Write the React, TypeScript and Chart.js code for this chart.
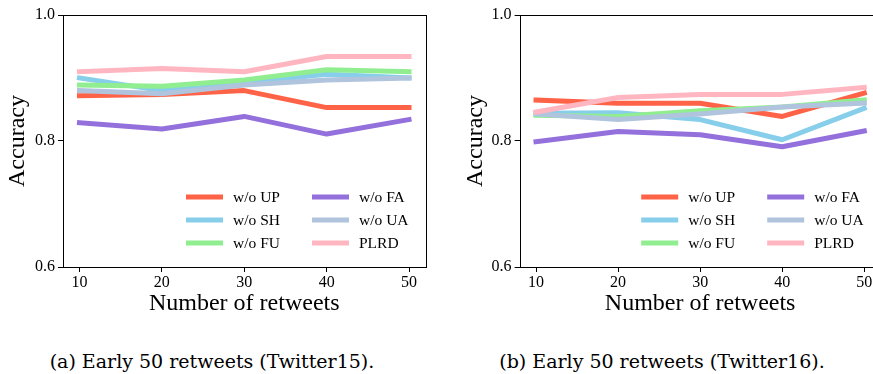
import React, { useEffect, useRef } from 'react';
import { Chart, registerables } from 'chart.js';
Chart.register(...registerables);

// ---------- data ----------
const retweetCounts = [10, 20, 30, 40, 50];
const xTickValues = [10, 20, 30, 40, 50];
const yTickValues = [0.6, 0.8, 1.0];
const seriesNames = ['w/o UP', 'w/o SH', 'w/o FU', 'w/o FA', 'w/o UA', 'PLRD'];
const seriesColors = ['#FF6347', '#87CEEB', '#90EE90', '#9370DB', '#B0C4DE', '#FFB6C1'];

// Twitter15
const t15UP = [0.872, 0.874, 0.880, 0.853, 0.853];
const t15SH = [0.900, 0.880, 0.893, 0.906, 0.900];
const t15FU = [0.889, 0.887, 0.897, 0.913, 0.910];
const t15FA = [0.829, 0.819, 0.839, 0.811, 0.834];
const t15UA = [0.880, 0.875, 0.889, 0.897, 0.900];
const t15PLRD = [0.910, 0.915, 0.910, 0.934, 0.934];

// Twitter16
const t16UP = [0.865, 0.860, 0.860, 0.839, 0.876];
const t16SH = [0.844, 0.845, 0.834, 0.802, 0.852];
const t16FU = [0.841, 0.839, 0.848, 0.854, 0.865];
const t16FA = [0.799, 0.815, 0.810, 0.791, 0.816];
const t16UA = [0.843, 0.834, 0.843, 0.854, 0.860];
const t16PLRD = [0.846, 0.869, 0.874, 0.874, 0.885];

const xLabel = 'Number of retweets';
const yLabel = 'Accuracy';
const captionA = '(a) Early 50 retweets (Twitter15).';
const captionB = '(b) Early 50 retweets (Twitter16).';

const SERIF = '"Liberation Serif", "Times New Roman", serif';

const boxLegendPlugin = {
  id: 'boxLegend',
  afterDatasetsDraw(chart: any) {
    const { ctx, chartArea } = chart;
    ctx.save();
    // axes frame
    ctx.strokeStyle = '#000';
    ctx.lineWidth = 1;
    const l = Math.round(chartArea.left) + 0.5;
    const t = Math.round(chartArea.top) + 0.5;
    const r = Math.round(chartArea.right) + 0.5;
    const b = Math.round(chartArea.bottom) + 0.5;
    ctx.strokeRect(l, t, r - l, b - t);
    // legend (2 columns, column-major)
    const cols = [chartArea.right - 239.5, chartArea.right - 113.5];
    const rows = [chartArea.bottom - 70, chartArea.bottom - 47, chartArea.bottom - 24];
    chart.data.datasets.forEach((ds: any, i: number) => {
      const x = cols[Math.floor(i / 3)];
      const y = rows[i % 3];
      ctx.strokeStyle = ds.borderColor;
      ctx.lineWidth = 5;
      ctx.lineCap = 'butt';
      ctx.beginPath();
      ctx.moveTo(x, y);
      ctx.lineTo(x + 37, y);
      ctx.stroke();
      ctx.fillStyle = '#000';
      ctx.font = '15.5px ' + SERIF;
      ctx.textBaseline = 'middle';
      ctx.textAlign = 'left';
      ctx.fillText(ds.label, x + 47, y + 0.5);
    });
    ctx.restore();
  },
};

function makeConfig(series: number[][], padLeft: number, padRight: number, yWidth: number): any {
  return {
    type: 'line',
    data: {
      labels: retweetCounts,
      datasets: series.map((vals, i) => ({
        label: seriesNames[i],
        data: retweetCounts.map((x, j) => ({ x, y: vals[j] })),
        borderColor: seriesColors[i],
        backgroundColor: seriesColors[i],
        borderWidth: 5,
        pointRadius: 0,
        tension: 0,
        borderCapStyle: 'square',
        borderJoinStyle: 'round',
        fill: false,
        order: series.length - i,
      })),
    },
    options: {
      responsive: false,
      animation: false,
      devicePixelRatio: 1,
      layout: { padding: { left: padLeft, right: padRight, top: 15, bottom: 0 } },
      plugins: { legend: { display: false }, tooltip: { enabled: false } },
      scales: {
        x: {
          type: 'linear',
          min: 8,
          max: 52,
          afterBuildTicks: (s: any) => {
            s.ticks = xTickValues.map((v) => ({ value: v }));
          },
          afterFit: (s: any) => {
            s.height = 63;
          },
          ticks: {
            color: '#000',
            font: { family: SERIF, size: 16 },
            padding: 1,
            maxRotation: 0,
            callback: (v: any) => String(v),
          },
          grid: { display: true, drawOnChartArea: false, drawTicks: true, tickLength: 5, tickColor: '#000', tickWidth: 1 },
          border: { display: false },
          title: {
            display: true,
            text: xLabel,
            color: '#000',
            font: { family: SERIF, size: 24 },
            padding: { top: 0, bottom: 12 },
          },
        },
        y: {
          type: 'linear',
          min: 0.6,
          max: 1.0,
          afterBuildTicks: (s: any) => {
            s.ticks = yTickValues.map((v) => ({ value: v }));
          },
          afterFit: (s: any) => {
            s.width = yWidth;
          },
          ticks: {
            color: '#000',
            font: { family: SERIF, size: 16 },
            padding: 3,
            callback: (v: any) => Number(v).toFixed(1),
          },
          grid: { display: true, drawOnChartArea: false, drawTicks: true, tickLength: 5, tickColor: '#000', tickWidth: 1 },
          border: { display: false },
          title: {
            display: true,
            text: yLabel,
            color: '#000',
            font: { family: SERIF, size: 24 },
            padding: { top: 3, bottom: 0 },
          },
        },
      },
    },
    plugins: [boxLegendPlugin],
  };
}

function LineChart(props: { series: number[][]; left: number; width: number; padLeft: number; padRight: number; yWidth: number }) {
  const ref = useRef<HTMLCanvasElement | null>(null);
  useEffect(() => {
    if (!ref.current) return;
    const chart = new Chart(ref.current, makeConfig(props.series, props.padLeft, props.padRight, props.yWidth));
    return () => chart.destroy();
  }, []);
  return (
    <canvas
      ref={ref}
      width={props.width}
      height={330}
      style={{ position: 'absolute', left: props.left, top: 0, width: props.width, height: 330 }}
    />
  );
}

const captionStyle = (center: number): React.CSSProperties => ({
  position: 'absolute',
  left: center - 250,
  width: 500,
  top: 349,
  height: 24,
  lineHeight: '24px',
  textAlign: 'center',
  fontFamily: '"DejaVu Serif", serif',
  fontSize: 19,
  color: '#000',
  whiteSpace: 'nowrap',
});

export default function App() {
  return (
    <div style={{ position: 'fixed', left: 0, top: 0, width: 873, height: 374, overflow: 'hidden', background: '#fff' }}>
      <LineChart series={[t15UP, t15SH, t15FU, t15FA, t15UA, t15PLRD]} left={0} width={440} padLeft={0} padRight={14.5} yWidth={63} />
      <LineChart series={[t16UP, t16SH, t16FU, t16FA, t16UA, t16PLRD]} left={440} width={460} padLeft={18} padRight={19.3} yWidth={61.6} />
      <div style={captionStyle(212)}>{captionA}</div>
      <div style={captionStyle(662)}>{captionB}</div>
    </div>
  );
}
